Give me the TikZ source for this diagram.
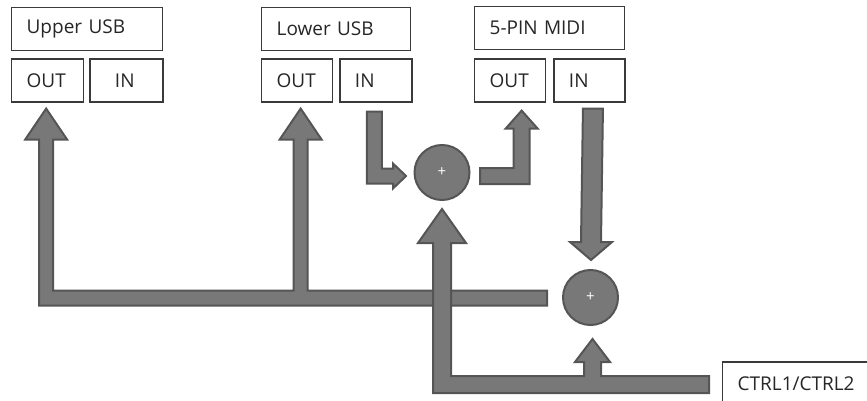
\documentclass[tikz,border=0pt]{standalone}
\usepackage{fontspec}
\setmainfont{Open Sans}
\usetikzlibrary{positioning,calc}
\definecolor{boxline}{HTML}{3A3A3A}
\definecolor{arrowfill}{HTML}{787878}
\definecolor{arrowline}{HTML}{555555}

\begin{document}
\begin{tikzpicture}[
    x=1pt, y=-1pt,
    font=\fontsize{19}{22}\selectfont,
    box/.style={draw=boxline, line width=1.3pt, rectangle, minimum height=43pt, inner xsep=15pt, inner ysep=0pt, text width=#1, align=left, text=black!85},
    mixer/.style={circle, fill=arrowfill, draw=arrowline, line width=2pt, minimum size=55pt, inner sep=0pt, text=white, font=\fontsize{15}{15}\selectfont},
    fat/.style={fill=arrowfill, draw=arrowline, line width=2pt, line join=miter}
]
\useasboundingbox (0,0) rectangle (867,401);

% ports
\node[box=121pt, anchor=north west] (upper) at (11,7) {Upper USB};
\node[box=42pt, below right=7pt and 0pt of upper.south west] (uout) {OUT};
\node[box=43pt, right=5pt of uout] (uin) {\hspace*{10pt}IN};

\node[box=119pt, anchor=north west] (lower) at (261,7) {Lower USB};
\node[box=41pt, below right=7pt and 0pt of lower.south west] (lout) {OUT};
\node[box=42pt, right=6pt of lout] (lin) {IN};

\node[box=120pt, anchor=north west] (midi) at (474,6) {5-PIN MIDI};
\node[box=41pt, below right=8pt and 0pt of midi.south west] (mout) {OUT};
\node[box=41pt, right=7pt of mout] (min) {IN};

\node[box=120pt, anchor=west] (ctrl) at (722,383.5) {CTRL1/CTRL2};

% mixers
\node[mixer] (mixA) at (442,172.5) {+};
\node[mixer] (mixB) at (590.5,297.5) {+};

% key points
\coordinate (tA1) at ($(uout.south)+(-1.5,6)$);
\coordinate (tA2) at ($(lout.south)+(3.5,6)$);
\coordinate (barA) at ($(mixB.west)+(-15,0.5)$);
\coordinate (tB1) at ($(mixA.south)+(0,8)$);
\coordinate (tB2) at ($(mixB.south)+(2,13)$);
\coordinate (barB) at ($(ctrl.west)+(-13,1)$);
\coordinate (sM) at ($(min.south)+(3.5,6)$);
\coordinate (tM) at ($(mixB.north)+(0.5,-9)$);
\coordinate (sL1) at ($(lin.south)+(-1.5,9)$);
\coordinate (tL1) at ($(mixA.west)+(-7.5,3.5)$);
\coordinate (sL2) at ($(mixA.east)+(9.5,3.5)$);
\coordinate (tL2) at ($(mout.south)+(11.5,8)$);

% mixB to both USB OUT
\draw[fat] ($(barA)+(0,-7.5)$) -- ($(tA2 |- barA)+(7,-7.5)$) -- ($(tA2)+(7,31)$) -- ($(tA2)+(21,31)$) -- (tA2)
    -- ($(tA2)+(-21,31)$) -- ($(tA2)+(-7,31)$) -- ($(tA2 |- barA)+(-7,-7.5)$)
    -- ($(tA1 |- barA)+(7,-7.5)$) -- ($(tA1)+(7,31)$) -- ($(tA1)+(21,31)$) -- (tA1)
    -- ($(tA1)+(-21,31)$) -- ($(tA1)+(-7,31)$) -- ($(tA1 |- barA)+(-7,7.5)$) -- ($(barA)+(0,7.5)$) -- cycle;

% CTRL to both mixers
\draw[fat] ($(barB)+(0,-8.5)$) -- ($(tB2 |- barB)+(8.5,-8.5)$) -- ($(tB2)+(8.5,23)$) -- ($(tB2)+(17.5,23)$) -- (tB2)
    -- ($(tB2)+(-17.5,23)$) -- ($(tB2)+(-8.5,23)$) -- ($(tB2 |- barB)+(-8.5,-8.5)$)
    -- ($(tB1 |- barB)+(9,-8.5)$) -- ($(tB1)+(9,34)$) -- ($(tB1)+(24,34)$) -- (tB1)
    -- ($(tB1)+(-24,34)$) -- ($(tB1)+(-9,34)$) -- ($(tB1 |- barB)+(-9,8.5)$) -- ($(barB)+(0,8.5)$) -- cycle;

% MIDI IN to mixB
\draw[fat] ($(sM)+(-10,0)$) -- ($(sM)+(10,0)$) -- ($(tM)+(10,-18)$) -- ($(tM)+(21,-18)$) -- (tM)
    -- ($(tM)+(-21,-18)$) -- ($(tM)+(-10,-18)$) -- cycle;

% Lower USB IN to mixA
\draw[fat] ($(sL1)+(-7.5,0)$) -- ($(sL1)+(7.5,0)$) -- ($(sL1 |- tL1)+(7.5,-7.5)$) -- ($(tL1)+(-13,-7.5)$)
    -- ($(tL1)+(-13,-12.5)$) -- (tL1) -- ($(tL1)+(-13,12.5)$) -- ($(tL1)+(-13,7.5)$) -- ($(sL1 |- tL1)+(-7.5,7.5)$) -- cycle;

% mixA to MIDI OUT
\draw[fat] ($(sL2)+(0,-8)$) -- ($(tL2 |- sL2)+(-8,-8)$) -- ($(tL2)+(-8,18)$) -- ($(tL2)+(-16,18)$) -- (tL2)
    -- ($(tL2)+(16,18)$) -- ($(tL2)+(8,18)$) -- ($(tL2 |- sL2)+(8,8)$) -- ($(sL2)+(0,8)$) -- cycle;

\end{tikzpicture}
\end{document}
